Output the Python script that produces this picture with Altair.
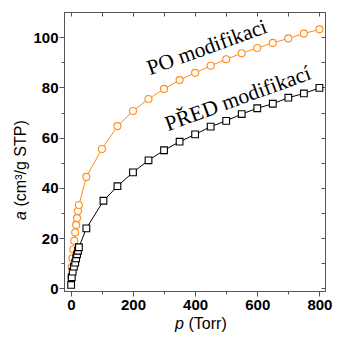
import altair as alt
import pandas as pd

# ---- data ----
po_p = [1, 3, 5, 8, 11, 14, 17, 20, 23, 26, 50, 100, 150, 200, 250, 300, 350, 400,
        450, 500, 550, 600, 650, 700, 750, 800]
po_a = [4.5, 8.5, 12.0, 15.5, 19.0, 22.3, 25.3, 28.0, 30.8, 33.2, 44.4, 55.5, 64.6,
        70.6, 75.4, 79.4, 82.9, 85.8, 88.6, 91.2, 93.6, 95.7, 97.7, 99.5, 101.4, 103.1]

pred_p = [1, 3, 6, 10, 14, 17, 20, 23, 26, 50, 105, 150, 200, 250, 300, 350, 400,
          450, 500, 550, 600, 650, 700, 750, 800]
pred_a = [1.4, 4.5, 6.7, 8.7, 10.3, 12.0, 13.6, 15.0, 16.4, 23.9, 34.9, 40.7, 46.2,
          51.0, 55.0, 58.4, 61.3, 64.4, 66.7, 69.4, 71.7, 73.5, 75.9, 77.6, 79.8]

label_text = ["PO modifikaci", "PŘED modifikací"]
label_p = [255, 313]
label_a = [84.8, 62.6]

x_ticks = list(range(0, 801, 100))
y_ticks = list(range(0, 101, 10))

ORANGE = "#FF8C1A"
FRAME = "#555555"

df_po = pd.DataFrame({"p": po_p, "a": po_a})
df_pred = pd.DataFrame({"p": pred_p, "a": pred_a})
df_lab = pd.DataFrame({"p": label_p, "a": label_a, "t": label_text})
df_one = pd.DataFrame({"k": [0]})

xs = alt.Scale(domain=[-22, 818], nice=False, zero=False)
ys = alt.Scale(domain=[-1, 110], nice=False, zero=False)

common_axis = dict(
    grid=False, title=None, labelFont="Liberation Sans", labelFontWeight="bold",
    labelFontSize=15, labelColor="black", tickColor=FRAME, domainColor=FRAME,
    labelOverlap=False, labelFlush=False, labelPadding=1,
)

bottom_axis = alt.Axis(
    orient="bottom", values=x_ticks,
    labelExpr="datum.value % 200 == 0 ? datum.label : ''",
    tickSize={"condition": {"test": "datum.value % 200 == 0", "value": 5}, "value": 3},
    **common_axis,
)
left_axis = alt.Axis(
    orient="left", values=y_ticks,
    labelExpr="datum.value % 20 == 0 ? datum.label : ''",
    tickSize={"condition": {"test": "datum.value % 20 == 0", "value": 5}, "value": 3},
    **common_axis,
)
top_axis = alt.Axis(orient="top", values=x_ticks, labels=False, grid=False, title=None,
                    tickSize={"expr": "-4"}, tickColor=FRAME, domainColor=FRAME)
right_axis = alt.Axis(orient="right", values=y_ticks, labels=False, grid=False, title=None,
                      tickSize={"expr": "-4"}, tickColor=FRAME, domainColor=FRAME)

po_line = alt.Chart(df_po).mark_line(color=ORANGE, strokeWidth=1).encode(
    x=alt.X("p:Q", scale=xs, axis=bottom_axis),
    y=alt.Y("a:Q", scale=ys, axis=left_axis),
)
po_pts = alt.Chart(df_po).mark_point(
    shape="circle", filled=True, fill="white", stroke=ORANGE, strokeWidth=1.1,
    size=49, opacity=1,
).encode(
    x=alt.X("p:Q", scale=xs, axis=None),
    y=alt.Y("a:Q", scale=ys, axis=None),
)
pred_line = alt.Chart(df_pred).mark_line(color="black", strokeWidth=1).encode(
    x=alt.X("p:Q", scale=xs, axis=top_axis),
    y=alt.Y("a:Q", scale=ys, axis=right_axis),
)
pred_pts = alt.Chart(df_pred).mark_point(
    shape="square", filled=True, fill="white", stroke="black", strokeWidth=1.1,
    size=45, opacity=1,
).encode(
    x=alt.X("p:Q", scale=xs, axis=None),
    y=alt.Y("a:Q", scale=ys, axis=None),
)
labels = alt.Chart(df_lab).mark_text(
    font="Liberation Serif", fontSize=21.5, angle=340, align="left",
    baseline="alphabetic", color="black",
).encode(
    x=alt.X("p:Q", scale=xs, axis=None),
    y=alt.Y("a:Q", scale=ys, axis=None),
    text="t:N",
)

# axis titles (italic symbol + upright unit)
tfont = dict(font="Liberation Sans", fontSize=16, color="black")
xt_p = alt.Chart(df_one).mark_text(align="left", baseline="alphabetic",
                                   fontStyle="italic", text="p", **tfont).encode(
    x=alt.value(111), y=alt.value(317))
xt_u = alt.Chart(df_one).mark_text(align="left", baseline="alphabetic",
                                   text="(Torr)", **tfont).encode(
    x=alt.value(124.5), y=alt.value(317))
yt_a = alt.Chart(df_one).mark_text(align="left", baseline="middle", angle=270,
                                   fontStyle="italic", text="a", **tfont).encode(
    x=alt.value(-43), y=alt.value(208))
yt_u = alt.Chart(df_one).mark_text(align="left", baseline="middle", angle=270,
                                   text="(cm³/g STP)", **tfont).encode(
    x=alt.value(-43), y=alt.value(194.5))

chart = alt.layer(
    po_line, pred_line, po_pts, pred_pts, labels, xt_p, xt_u, yt_a, yt_u
).resolve_axis(x="independent", y="independent").properties(
    width=261, height=279,
    autosize=alt.AutoSizeParams(type="none"),
    padding={"left": 56, "top": 4, "right": 8, "bottom": 42},
).configure_view(stroke=FRAME, strokeWidth=1)

chart.save("out.html", embed_options={"renderer": "svg", "actions": False})
